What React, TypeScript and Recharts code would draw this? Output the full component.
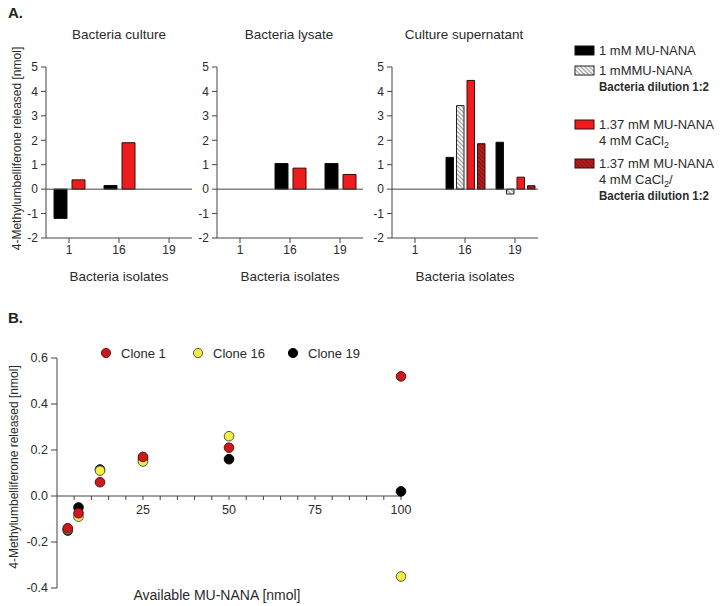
import React from 'react';
import {
  BarChart,
  Bar,
  XAxis,
  YAxis,
  ReferenceLine,
  ReferenceDot,
  ScatterChart,
  Scatter,
} from 'recharts';

const FONT = '"Liberation Sans", Arial, Helvetica, sans-serif';
const TEXT = '#2b2b2b';
const AXIS = '#444';

// ---- Panel A: 4-MU released per isolate (nmol) ----
const isolates = ['1', '16', '19'];
const cultureMu = [-1.2, 0.15, null];
const cultureCa = [0.38, 1.9, null];
const lysateMu = [null, 1.05, 1.05];
const lysateCa = [null, 0.86, 0.6];
const supernatantMu = [null, 1.3, 1.92];
const supernatantMuDil = [null, 3.42, -0.2];
const supernatantCa = [null, 4.45, 0.49];
const supernatantCaDil = [null, 1.86, 0.14];
const yTicksA = [-2, -1, 0, 1, 2, 3, 4, 5];

// ---- Panel B: 4-MU released vs available substrate ----
const availableNmol = [3.125, 6.25, 12.5, 25, 50, 100];
const clone1 = [-0.14, -0.075, 0.06, 0.17, 0.21, 0.52];
const clone16 = [-0.145, -0.09, 0.11, 0.15, 0.26, -0.35];
const clone19 = [-0.15, -0.05, 0.115, 0.16, 0.16, 0.02];
const yTicksB = [-0.4, -0.2, 0, 0.2, 0.4, 0.6];
const xMajorB = [25, 50, 75, 100];
const xMinorB = [5, 10, 15, 20, 30, 35, 40, 45, 55, 60, 65, 70, 80, 85, 90, 95];

const Y_TITLE = '4-Methylumbelliferone released [nmol]';

const BAR_STYLE: Record<string, { fill: string; stroke: string }> = {
  mu: { fill: '#000000', stroke: '#111' },
  muDil: { fill: 'url(#hatchGrey)', stroke: '#222' },
  ca: { fill: '#ee1c1c', stroke: '#3a0a0a' },
  caDil: { fill: 'url(#hatchRed)', stroke: '#3a0a0a' },
};

const CLONES = [
  { name: 'Clone 1', values: clone1, fill: '#c81a1f', stroke: '#6a0c0c' },
  { name: 'Clone 16', values: clone16, fill: '#f2ee3c', stroke: '#555' },
  { name: 'Clone 19', values: clone19, fill: '#000000', stroke: '#000' },
];

function VerticalTitle(props: any) {
  const vb = props.viewBox || { x: 0, y: 0, width: 0, height: 0 };
  const cx = vb.x + props.dx0;
  const cy = vb.y + vb.height / 2 + (props.dy0 || 0);
  return (
    <text
      x={cx}
      y={cy}
      transform={`rotate(-90 ${cx} ${cy})`}
      textAnchor="middle"
      dominantBaseline="central"
      fontSize={props.fs}
      fill={TEXT}
      fontFamily={FONT}
    >
      {props.text}
    </text>
  );
}

function BottomTitle(props: any) {
  const vb = props.viewBox || { x: 0, y: 0, width: 0, height: 0 };
  return (
    <text
      x={vb.x + vb.width / 2}
      y={vb.y + props.dy0}
      textAnchor="middle"
      dominantBaseline="central"
      fontSize={13.5}
      fill={TEXT}
      fontFamily={FONT}
    >
      {props.text}
    </text>
  );
}

type SeriesDef = { key: string; values: (number | null)[] };

function IsolatePanel({
  left,
  series,
  barSize,
  barGap,
  showYTitle,
}: {
  left: number;
  series: SeriesDef[];
  barSize: number;
  barGap: number;
  showYTitle?: boolean;
}) {
  const rows = isolates.map((iso, i) => {
    const r: Record<string, any> = { isolate: iso };
    series.forEach((s) => (r[s.key] = s.values[i]));
    return r;
  });
  return (
    <div style={{ position: 'absolute', left, top: 0 }}>
      <BarChart
        width={200}
        height={290}
        data={rows}
        margin={{ top: 67, right: 8, bottom: 0, left: 0 }}
        barSize={barSize}
        barGap={barGap}
      >
        <XAxis
          dataKey="isolate"
          height={52}
          interval={0}
          padding={{ left: -2, right: -2 }}
          tick={{ fontSize: 12, fill: TEXT, fontFamily: FONT }}
          tickSize={5}
          tickMargin={2}
          axisLine={{ stroke: AXIS }}
          tickLine={{ stroke: AXIS }}
          label={(p: any) => <BottomTitle {...p} dy0={38} text="Bacteria isolates" />}
        />
        <YAxis
          width={46}
          domain={[-2, 5]}
          ticks={yTicksA}
          interval={0}
          tick={{ fontSize: 12, fill: TEXT, fontFamily: FONT }}
          tickSize={5}
          tickMargin={3}
          axisLine={{ stroke: AXIS }}
          tickLine={{ stroke: AXIS }}
          label={
            showYTitle
              ? (p: any) => <VerticalTitle {...p} dx0={17} dy0={-4} fs={12} text={Y_TITLE} />
              : undefined
          }
        />
        <ReferenceLine y={0} stroke={AXIS} strokeWidth={1} />
        {series.map((s) => (
          <Bar
            key={s.key}
            dataKey={s.key}
            fill={BAR_STYLE[s.key].fill}
            stroke={BAR_STYLE[s.key].stroke}
            strokeWidth={1}
            isAnimationActive={false}
          />
        ))}
      </BarChart>
    </div>
  );
}

const LEGEND_A = [
  { key: 'mu', lines: [{ t: '1 mM MU-NANA' }], y: 51 },
  { key: 'muDil', lines: [{ t: '1 mMMU-NANA' }, { t: 'Bacteria dilution 1:2', bold: true }], y: 71 },
  { key: 'ca', lines: [{ t: '1.37 mM MU-NANA' }, { t: '4 mM CaCl', sub: '2' }], y: 125 },
  {
    key: 'caDil',
    lines: [{ t: '1.37 mM MU-NANA' }, { t: '4 mM CaCl', sub: '2', tail: '/' }, { t: 'Bacteria dilution 1:2', bold: true }],
    y: 164,
  },
];

function TickMark(props: any) {
  const { cx, cy, label } = props;
  if (cx == null || cy == null) return null;
  return (
    <g>
      <line x1={cx} y1={cy} x2={cx} y2={cy + 4} stroke={AXIS} strokeWidth={1} />
      {label ? (
        <text
          x={cx}
          y={cy + 14}
          textAnchor="middle"
          dominantBaseline="central"
          fontSize={12.5}
          fill={TEXT}
          fontFamily={FONT}
        >
          {label}
        </text>
      ) : null}
    </g>
  );
}

function ClonePanel() {
  const seriesData = CLONES.map((c) => ({
    ...c,
    data: availableNmol.map((x, i) => ({ x, y: c.values[i] })),
  }));
  // Clone 19 drawn first, Clone 1 on top
  const drawOrder = [seriesData[2], seriesData[1], seriesData[0]];
  return (
    <div style={{ position: 'absolute', left: 0, top: 300 }}>
      <ScatterChart width={420} height={306} margin={{ top: 58, right: 19, bottom: 18, left: 0 }}>
        <XAxis type="number" dataKey="x" domain={[0, 100]} hide />
        <YAxis
          type="number"
          dataKey="y"
          width={57}
          domain={[-0.4, 0.6]}
          ticks={yTicksB}
          interval={0}
          tickFormatter={(v: number) => v.toFixed(1)}
          tick={{ fontSize: 12.5, fill: TEXT, fontFamily: FONT }}
          tickSize={6}
          tickMargin={3}
          axisLine={{ stroke: AXIS }}
          tickLine={{ stroke: AXIS }}
          label={(p: any) => <VerticalTitle {...p} dx0={14} dy0={-6} fs={12} text={Y_TITLE} />}
        />
        <ReferenceLine y={0} stroke={AXIS} strokeWidth={1} />
        {xMinorB.map((v) => (
          <ReferenceDot key={`m${v}`} x={v} y={0} shape={(p: any) => <TickMark {...p} />} />
        ))}
        {xMajorB.map((v) => (
          <ReferenceDot key={`M${v}`} x={v} y={0} shape={(p: any) => <TickMark {...p} label={String(v)} />} />
        ))}
        {drawOrder.map((s) => (
          <Scatter
            key={s.name}
            name={s.name}
            data={s.data}
            isAnimationActive={false}
            shape={(p: any) => <circle cx={p.cx} cy={p.cy} r={4.8} fill={s.fill} stroke={s.stroke} strokeWidth={1} />}
          />
        ))}
      </ScatterChart>
    </div>
  );
}

export default function App() {
  return (
    <div
      style={{
        position: 'absolute',
        left: 0,
        top: 0,
        width: 720,
        height: 606,
        background: '#fff',
        fontFamily: FONT,
        overflow: 'hidden',
      }}
    >
      <svg width={0} height={0} style={{ position: 'absolute' }}>
        <defs>
          <pattern id="hatchGrey" width="3" height="3" patternUnits="userSpaceOnUse" patternTransform="rotate(-45)">
            <rect width="3" height="3" fill="#f4f4f4" />
            <line x1="0" y1="0" x2="0" y2="3" stroke="#6a6a6a" strokeWidth="1.3" />
          </pattern>
          <pattern id="hatchRed" width="3" height="3" patternUnits="userSpaceOnUse" patternTransform="rotate(-45)">
            <rect width="3" height="3" fill="#b21e1e" />
            <line x1="0" y1="0" x2="0" y2="3" stroke="#6d0d0d" strokeWidth="1.3" />
          </pattern>
        </defs>
      </svg>

      <IsolatePanel
        left={0}
        showYTitle
        barSize={13}
        barGap={5}
        series={[
          { key: 'mu', values: cultureMu },
          { key: 'ca', values: cultureCa },
        ]}
      />
      <IsolatePanel
        left={171}
        barSize={13}
        barGap={5}
        series={[
          { key: 'mu', values: lysateMu },
          { key: 'ca', values: lysateCa },
        ]}
      />
      <IsolatePanel
        left={346}
        barSize={7.5}
        barGap={3}
        series={[
          { key: 'mu', values: supernatantMu },
          { key: 'muDil', values: supernatantMuDil },
          { key: 'ca', values: supernatantCa },
          { key: 'caDil', values: supernatantCaDil },
        ]}
      />

      <ClonePanel />

      <svg
        width={720}
        height={606}
        style={{ position: 'absolute', left: 0, top: 0, pointerEvents: 'none' }}
        fontFamily={FONT}
      >
        <text x={8} y={18} fontSize={15} fontWeight="bold" fill="#222">A.</text>
        <text x={119} y={39} fontSize={13.5} textAnchor="middle" fill={TEXT}>Bacteria culture</text>
        <text x={289} y={39} fontSize={13.5} textAnchor="middle" fill={TEXT}>Bacteria lysate</text>
        <text x={464} y={39} fontSize={13.5} textAnchor="middle" fill={TEXT}>Culture supernatant</text>

        {LEGEND_A.map((item) => (
          <g key={item.key}>
            <rect
              x={575}
              y={item.y - 5}
              width={19}
              height={9}
              fill={BAR_STYLE[item.key].fill}
              stroke={BAR_STYLE[item.key].stroke}
              strokeWidth={1}
            />
            {item.lines.map((ln: any, i: number) =>
              ln.bold ? (
                <text
                  key={i}
                  x={599}
                  y={item.y + 4 + i * 16}
                  fontSize={12}
                  fontWeight="bold"
                  fill={TEXT}
                  textLength={110}
                  lengthAdjust="spacingAndGlyphs"
                >
                  {ln.t}
                </text>
              ) : (
                <text key={i} x={599} y={item.y + 4 + i * 16} fontSize={13} fill={TEXT}>
                  {ln.t}
                  {ln.sub ? (
                    <tspan fontSize={9} dy={3}>
                      {ln.sub}
                    </tspan>
                  ) : null}
                  {ln.tail ? <tspan dy={-3}>{ln.tail}</tspan> : null}
                </text>
              )
            )}
          </g>
        ))}

        <text x={8} y={323} fontSize={15} fontWeight="bold" fill="#222">B.</text>
        {CLONES.map((c, i) => {
          const mx = [106, 198, 293][i];
          return (
            <g key={c.name}>
              <circle cx={mx} cy={353} r={4.6} fill={c.fill} stroke={c.stroke} strokeWidth={1} />
              <text x={mx + 15} y={357.5} fontSize={13} fill={TEXT}>
                {c.name}
              </text>
            </g>
          );
        })}
        <text x={217} y={600} fontSize={14} textAnchor="middle" fill={TEXT}>
          Available MU-NANA [nmol]
        </text>
      </svg>
    </div>
  );
}
